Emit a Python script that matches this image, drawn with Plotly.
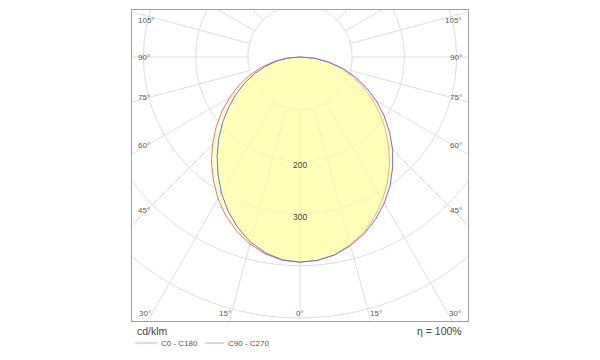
import numpy as np
import plotly.graph_objects as go

# ---- data (cd/klm) ----
gamma = [0, 5, 10, 15, 20, 25, 30, 35, 40, 45, 50, 55, 60, 65, 70, 75, 80, 85, 90]
c0 = [393, 391, 384, 372, 357, 338, 316, 292, 267, 240, 213, 186, 159, 132, 105, 79, 52, 26, 0]
c180 = [393, 391, 383, 371, 355, 336, 314, 289, 264, 237, 210, 183, 156, 129, 103, 77, 51, 26, 0]
c90 = [393, 391, 385, 374, 360, 343, 323, 301, 276, 251, 224, 197, 169, 141, 113, 85, 56, 28, 0]
c270 = [393, 390, 381, 367, 348, 326, 301, 274, 247, 220, 193, 166, 141, 116, 92, 68, 45, 23, 0]

ring_values = [100, 200, 300, 400, 500, 600]
ring_label_values = [200, 300]
spoke_step = 15
side_labels = ["105°", "90°", "75°", "60°", "45°"]
bottom_labels = ["30°", "15°", "0°", "15°", "30°"]
series_names = ["C0 - C180", "C90 - C270"]
unit_label = "cd/klm"
eta_label = "η = 100%"

# ---- geometry helpers ----
L, R, T, B = 132, 468, 10, 321          # plot box in page pixels
W, H = 600, 360
OFF = 8                                 # page body margin


def px(x):
    return (x - L) / (R - L)


def py(y):
    return (B - y) / (B - T)


g = np.radians(gamma)


def plane(left, right):
    lv = np.array(left, float)
    rv = np.array(right, float)
    xl, yl = -lv * np.sin(g), -lv * np.cos(g)
    xr, yr = rv * np.sin(g), -rv * np.cos(g)
    x = np.concatenate([xl[::-1], xr[1:]])
    y = np.concatenate([yl[::-1], yr[1:]])
    return x, y


fig = go.Figure()

# grid circles
th = np.linspace(0, 2 * np.pi, 721)
gx, gy = [], []
for r in ring_values:
    gx += list(r * np.cos(th)) + [None]
    gy += list(r * np.sin(th)) + [None]
# spokes
for a in range(0, 360, spoke_step):
    t = np.radians(a)
    gx += [100 * np.cos(t), 800 * np.cos(t), None]
    gy += [100 * np.sin(t), 800 * np.sin(t), None]
fig.add_trace(go.Scatter(x=gx, y=gy, mode="lines", line=dict(color="#dedede", width=1),
                         hoverinfo="skip", showlegend=False))

colors = ["rgb(236,120,112)", "rgb(112,112,214)"]
for (left, right), name, col in zip([(c180, c0), (c270, c90)], series_names, colors):
    x, y = plane(left, right)
    fig.add_trace(go.Scatter(x=x, y=y, mode="lines", fill="toself",
                             fillcolor="rgba(255,255,150,0.42)",
                             line=dict(color=col, width=1), name=name, showlegend=False))

ann = []
for v in ring_label_values:
    ann.append(dict(x=0, y=-v - 6, xref="x", yref="y", text=str(v), showarrow=False,
                    font=dict(size=8.5, color="#444"), xanchor="center", yanchor="middle"))

side_y = [21, 57, 98, 145.5, 210]
for lab, yy in zip(side_labels, side_y):
    ann.append(dict(x=px(136), y=py(yy), xref="paper", yref="paper", text=lab, showarrow=False,
                    font=dict(size=8, color="#5a5a5a"), xanchor="left", yanchor="middle"))
    ann.append(dict(x=px(464), y=py(yy), xref="paper", yref="paper", text=lab, showarrow=False,
                    font=dict(size=8, color="#5a5a5a"), xanchor="right", yanchor="middle"))

bottom_x = [(137, "left"), (224.5, "center"), (300, "center"), (376, "center"), (463, "right")]
for lab, (xx, anc) in zip(bottom_labels, bottom_x):
    ann.append(dict(x=px(xx), y=py(313), xref="paper", yref="paper", text=lab, showarrow=False,
                    font=dict(size=8, color="#5a5a5a"), xanchor=anc, yanchor="middle"))

ann.append(dict(x=px(135), y=py(331), xref="paper", yref="paper", text=unit_label, showarrow=False,
                font=dict(size=10.5, color="#444"), xanchor="left", yanchor="middle"))
ann.append(dict(x=px(464), y=py(331), xref="paper", yref="paper", text=eta_label, showarrow=False,
                font=dict(size=10.5, color="#444"), xanchor="right", yanchor="middle"))

legend_cols = ["rgb(242,170,165)", "rgb(170,170,232)"]
legend_line_x = [(135, 157), (205, 224)]
legend_text_x = [159, 226]
shapes = []
for name, col, (x0, x1), tx in zip(series_names, legend_cols, legend_line_x, legend_text_x):
    shapes.append(dict(type="line", xref="paper", yref="paper", x0=px(x0), x1=px(x1),
                       y0=py(343), y1=py(343), line=dict(color=col, width=1)))
    ann.append(dict(x=px(tx), y=py(343), xref="paper", yref="paper", text=name, showarrow=False,
                    font=dict(size=8, color="#555"), xanchor="left", yanchor="middle"))

xr_half = (R - L) / 2 / 0.522
y_top = (57 - T) / 0.522
y_bot = (B - 57) / 0.522

axis_common = dict(showgrid=False, zeroline=False, showticklabels=False, ticks="",
                   showline=True, mirror=True, linecolor="#a0a0a0", linewidth=1, fixedrange=True)
fig.update_layout(
    width=W, height=H,
    margin=dict(l=L - OFF, r=W - R + OFF, t=T - OFF, b=H - B + OFF),
    paper_bgcolor="white", plot_bgcolor="white",
    font=dict(family="Liberation Sans, Arial, sans-serif"),
    xaxis=dict(range=[-xr_half, xr_half], **axis_common),
    yaxis=dict(range=[-y_bot, y_top], **axis_common),
    annotations=ann, shapes=shapes, showlegend=False,
)

fig.write_html("out.html")
